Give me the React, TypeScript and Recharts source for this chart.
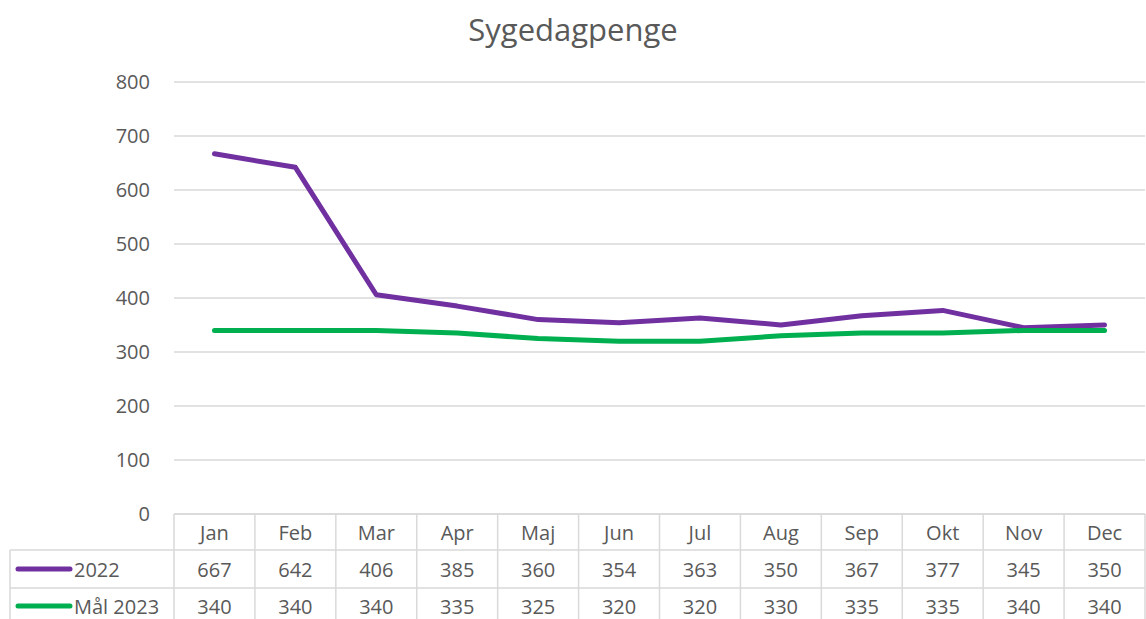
import React from "react";
import { LineChart, Line, XAxis, YAxis, CartesianGrid } from "recharts";

const months = ["Jan", "Feb", "Mar", "Apr", "Maj", "Jun", "Jul", "Aug", "Sep", "Okt", "Nov", "Dec"];
const values2022 = [667, 642, 406, 385, 360, 354, 363, 350, 367, 377, 345, 350];
const goal2023 = [340, 340, 340, 335, 325, 320, 320, 330, 335, 335, 340, 340];
const yTicks = [0, 100, 200, 300, 400, 500, 600, 700, 800];

const seriesKeys = ["v2022", "goal2023"];
const seriesNames = ["2022", "Mål 2023"];
const seriesColors = ["#7030A0", "#00B050"];
const seriesValues = [values2022, goal2023];

const data = months.map((m, i) => ({
  month: m,
  v2022: values2022[i],
  goal2023: goal2023[i],
}));

const FONT = "'Open Sans', sans-serif";
const TEXT = "#595959";
const GRID = "#d9d9d9";
const FS = 20;

// row layout of the data table under the plot (relative to axis y)
const ROW_TOPS = [0, 36, 74];
const ROW_MIDS = [18, 55, 92];
const TABLE_H = 105;
const TABLE_LEFT = 10;

function TableTick(props: any) {
  const { x, y, payload, index } = props;
  const half = 971 / months.length / 2;
  const left = x - half;
  const right = x + half;
  const last = index === months.length - 1;

  return (
    <g>
      <line x1={left} y1={y} x2={left} y2={y + TABLE_H} stroke={GRID} strokeWidth={1.5} />
      {last && <line x1={right} y1={y} x2={right} y2={y + TABLE_H} stroke={GRID} strokeWidth={1.5} />}
      {ROW_TOPS.slice(1).map((t) => (
        <line key={t} x1={left} y1={y + t} x2={right} y2={y + t} stroke={GRID} strokeWidth={1.5} />
      ))}
      <text x={x} y={y + ROW_MIDS[0]} textAnchor="middle" dominantBaseline="central" fill={TEXT} fontSize={FS} fontFamily={FONT}>
        {payload.value}
      </text>
      {seriesValues.map((vals, s) => (
        <text key={s} x={x} y={y + ROW_MIDS[s + 1]} textAnchor="middle" dominantBaseline="central" fill={TEXT} fontSize={FS} fontFamily={FONT}>
          {vals[index]}
        </text>
      ))}
      {index === 0 && (
        <g>
          <line x1={TABLE_LEFT} y1={y + ROW_TOPS[1]} x2={TABLE_LEFT} y2={y + TABLE_H} stroke={GRID} strokeWidth={1.5} />
          {ROW_TOPS.slice(1).map((t) => (
            <line key={t} x1={TABLE_LEFT} y1={y + t} x2={left} y2={y + t} stroke={GRID} strokeWidth={1.5} />
          ))}
          {seriesNames.map((name, s) => (
            <g key={name}>
              <line
                x1={18}
                y1={y + ROW_MIDS[s + 1]}
                x2={70}
                y2={y + ROW_MIDS[s + 1]}
                stroke={seriesColors[s]}
                strokeWidth={5}
                strokeLinecap="round"
              />
              <text x={74} y={y + ROW_MIDS[s + 1]} dominantBaseline="central" fill={TEXT} fontSize={FS} fontFamily={FONT}>
                {name}
              </text>
            </g>
          ))}
        </g>
      )}
    </g>
  );
}

export default function App() {
  return (
    <div style={{ position: "absolute", left: 0, top: 0, width: 1146, height: 619, background: "#fff" }}>
      <div
        style={{
          position: "absolute",
          left: 0,
          top: 7,
          width: 1146,
          textAlign: "center",
          fontFamily: FONT,
          fontSize: 31,
          color: TEXT,
          lineHeight: "44px",
        }}
      >
        Sygedagpenge
      </div>
      <LineChart
        width={1146}
        height={619}
        data={data}
        margin={{ top: 82, right: 1, left: 0, bottom: 0 }}
      >
        <CartesianGrid horizontal vertical={false} stroke={GRID} strokeWidth={1.5} />
        <XAxis
          dataKey="month"
          scale="band"
          height={TABLE_H}
          interval={0}
          axisLine={{ stroke: GRID, strokeWidth: 1.5 }}
          tickLine={false}
          tickSize={0}
          tickMargin={0}
          tick={<TableTick />}
        />
        <YAxis
          width={174}
          domain={[0, 800]}
          ticks={yTicks}
          interval={0}
          axisLine={false}
          tickLine={false}
          tickSize={6}
          tickMargin={18}
          tick={{ fill: TEXT, fontSize: FS, fontFamily: FONT }}
        />
        {seriesKeys.map((k, s) => (
          <Line
            key={k}
            dataKey={k}
            name={seriesNames[s]}
            type="linear"
            stroke={seriesColors[s]}
            strokeWidth={5}
            strokeLinecap="round"
            strokeLinejoin="round"
            dot={false}
            isAnimationActive={false}
          />
        ))}
      </LineChart>
    </div>
  );
}
